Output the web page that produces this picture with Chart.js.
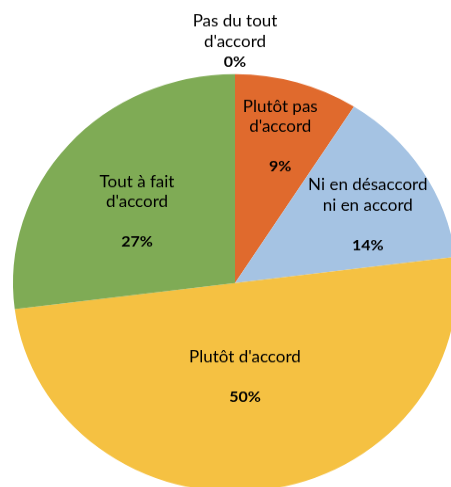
<!DOCTYPE html>
<html>
<head>
<meta charset="utf-8">
<script src="https://cdn.jsdelivr.net/npm/chart.js@4"></script>
<style>
html,body{margin:0;padding:0;background:#fff;overflow:hidden;width:451px;height:487px}
#wrap{position:absolute;left:0;top:0;width:470px;height:540px;transform:scaleY(0.941);transform-origin:0 0}
</style>
</head>
<body>
<div id="wrap"><canvas id="pie"></canvas></div>
<script>
// slices go clockwise from the top
const categories = ["Pas du tout\nd'accord", "Plutôt pas\nd'accord", "Ni en désaccord\nni en accord", "Plutôt d'accord", "Tout à fait\nd'accord"]
const values = [0, 9, 14, 50, 27]
const colors = ["#8FAADC", "#E06A2D", "#A5C3E3", "#F5C142", "#7FAB55"]

// where each label sits: fraction of the radius, small angle shift (deg), blank line before the %
const labelRadius = [1.155, 0.73, 0.68, 0.452, 0.557]
const labelShift = [0, 0, 4, 1.5, -3.8]
const labelGap = [0, 1, 1, 1, 1]

const total = values.reduce((a,b)=>a+b,0)

const sliceLabels = {
id:"sliceLabels",
afterDatasetsDraw(chart){
const ctx = chart.ctx
const meta = chart.getDatasetMeta(0)
const lh = 21.3
meta.data.forEach((arc,i)=>{
const p = arc.getProps(["x","y","startAngle","endAngle","outerRadius"],true)
const a = (p.startAngle + p.endAngle)/2 + labelShift[i]*Math.PI/180
const r = p.outerRadius * labelRadius[i]
const cx = p.x + Math.cos(a)*r
const cy = p.y + Math.sin(a)*r
const names = categories[i].split("\n")
const n = names.length + labelGap[i] + 1
let y = cy - (n-1)*lh/2
ctx.save()
ctx.fillStyle = "#000"
ctx.textAlign = "center"
ctx.textBaseline = "middle"
ctx.font = "17px Lato"
names.forEach(t=>{
ctx.fillText(t,cx,y)
y += lh
})
y += labelGap[i]*lh
ctx.font = "bold 16px Lato"
ctx.fillText(Math.round(values[i]/total*100)+"%",cx,y)
ctx.restore()
})
}
}

new Chart(document.getElementById("pie"),{
type:"pie",
data:{
labels:categories,
datasets:[{
data:values,
backgroundColor:colors,
borderWidth:0,
hoverOffset:0
}]
},
options:{
responsive:true,
maintainAspectRatio:false,
animation:false,
layout:{padding:{left:13,right:13,top:78.7,bottom:17.3}},
plugins:{legend:{display:false},tooltip:{enabled:false}}
},
plugins:[sliceLabels]
})
</script>
</body>
</html>
